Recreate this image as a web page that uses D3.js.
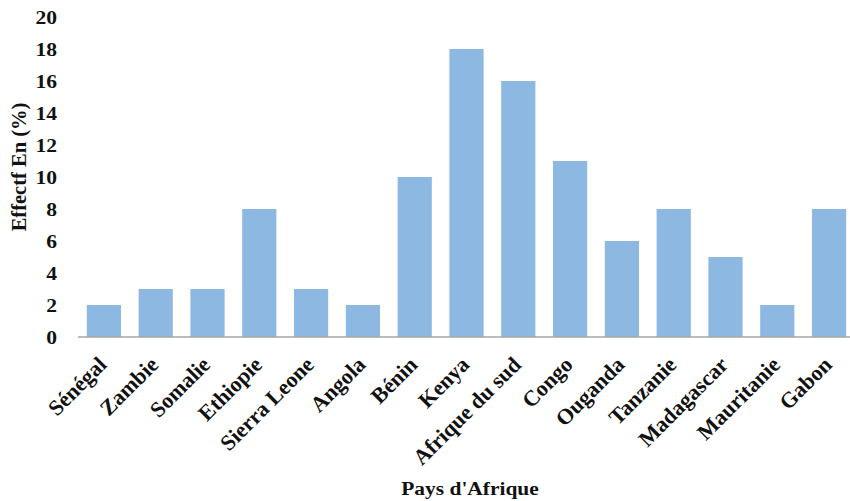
<!DOCTYPE html>
<html>
<head>
<meta charset="utf-8">
<script src="https://cdn.jsdelivr.net/npm/d3@7"></script>
<style>
  body { margin: 0; background: #fff; }
  text { font-family: "Liberation Serif", "Times New Roman", serif; font-weight: bold; fill: #111; }
</style>
</head>
<body>
<script>
// Data
var countries = ["Sénégal", "Zambie", "Somalie", "Ethiopie", "Sierra Leone", "Angola", "Bénin",
    "Kenya", "Afrique du sud", "Congo", "Ouganda", "Tanzanie", "Madagascar", "Mauritanie", "Gabon"];
var values = [2, 3, 3, 8, 3, 2, 10, 18, 16, 11, 6, 8, 5, 2, 8];
var yTicks = [0, 2, 4, 6, 8, 10, 12, 14, 16, 18, 20];

var data = countries.map(function (c, i) { return { pays: c, val: values[i] }; });

var width = 850, height = 501;
var margin = { top: 17, right: -5, bottom: 164, left: 78 };
var innerW = width - margin.left - margin.right,
    innerH = height - margin.top - margin.bottom;

var svg = d3.select("body").append("svg")
    .attr("width", width)
    .attr("height", height);

var g = svg.append("g")
    .attr("transform", "translate(" + margin.left + "," + margin.top + ")");

// Scales
var x = d3.scaleBand()
    .domain(countries)
    .range([0, innerW])
    .paddingInner(0.34)
    .paddingOuter(0.17);
var y = d3.scaleLinear()
    .domain([0, 20])
    .range([innerH, 0]);

// Bars
g.selectAll("rect.bar")
    .data(data)
    .enter().append("rect")
    .attr("class", "bar")
    .attr("x", function (d) { return x(d.pays); })
    .attr("y", function (d) { return y(d.val); })
    .attr("width", x.bandwidth())
    .attr("height", function (d) { return innerH - y(d.val); })
    .attr("fill", "#8cb8e2");

// Y axis (labels only, slightly wide glyphs like the original)
var yAxis = g.append("g")
    .call(d3.axisLeft(y).tickValues(yTicks).tickSize(0).tickPadding(0));
yAxis.select(".domain").remove();
yAxis.selectAll("text")
    .style("font-size", "18px")
    .style("font-family", "'Liberation Serif', serif")
    .attr("fill", "#111")
    .attr("x", -17.5)
    .attr("dy", "0.36em")
    .attr("transform", "scale(1.2,1)");

// X axis
var xAxis = g.append("g")
    .attr("transform", "translate(0," + innerH + ")")
    .call(d3.axisBottom(x).tickSize(0).tickPadding(0));
xAxis.select(".domain")
    .attr("stroke", "#a6a6a6")
    .attr("stroke-width", 1.5)
    .attr("d", "M0,0H" + (innerW + 10));
xAxis.selectAll("text")
    .style("font-size", "22px")
    .style("font-family", "'Liberation Serif', serif")
    .attr("fill", "#111")
    .attr("text-anchor", "end")
    .attr("y", 0)
    .attr("dy", "0")
    .attr("transform", "translate(4,29) rotate(-45)");

// Axis titles
svg.append("text")
    .attr("transform", "translate(26,167) rotate(-90)")
    .attr("text-anchor", "middle")
    .style("font-size", "20.5px")
    .text("Effectf En (%)");

svg.append("text")
    .attr("transform", "translate(470,495) scale(1.1,1)")
    .attr("text-anchor", "middle")
    .style("font-size", "19.5px")
    .text("Pays d'Afrique");
</script>
</body>
</html>
